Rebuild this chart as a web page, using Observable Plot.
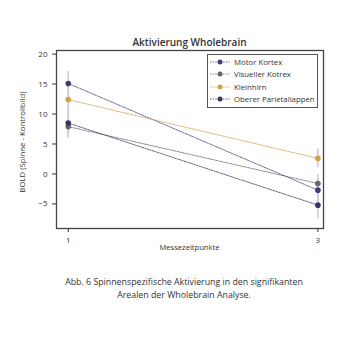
<!DOCTYPE html>
<html>
<head>
<meta charset="utf-8">
<script src="https://cdn.jsdelivr.net/npm/d3@7"></script>
<script src="https://cdn.jsdelivr.net/npm/@observablehq/plot@0.6"></script>
<style>
  html, body { margin: 0; padding: 0; background: #fff; }
  #wrap { position: relative; width: 350px; height: 350px; font-family: "Open Sans", "Noto Sans", sans-serif; color: #333; }
  #title { position: absolute; top: 35px; left: 56px; width: 267px; text-align: center; font-size: 10px; font-weight: 600; color: #333; }
  #ylabel { position: absolute; left: 22px; top: 142px; transform: translate(-50%, -50%) rotate(-90deg); white-space: nowrap; font-size: 7.8px; color: #333; }
  #xlabel { position: absolute; left: 56px; width: 267px; top: 242px; text-align: center; font-size: 7.6px; color: #333; }
  #caption { position: absolute; top: 276px; left: 0; width: 368px; text-align: center; font-size: 8.8px; line-height: 12.8px; color: #333; }
  #legend { position: absolute; left: 207px; top: 54px; width: 111px; height: 54px; border: 1px solid #555; background: #fff; box-sizing: border-box; }
  #chart { position: absolute; left: 0; top: 0; }
</style>
</head>
<body>
<div id="wrap">
  <div id="chart"></div>
  <div id="title">Aktivierung Wholebrain</div>
  <div id="ylabel">BOLD (Spinne - Kontrollbild)</div>
  <div id="xlabel">Messezeitpunkte</div>
  <div id="legend"></div>
  <div id="caption">Abb. 6 Spinnenspezifische Aktivierung in den signifikanten<br>Arealen der Wholebrain Analyse.</div>
</div>
<script>
const series = ["Motor Kortex", "Visueller Kotrex", "Kleinhirn", "Oberer Parietallappen"];
const colors = ["#403c78", "#666666", "#d4a045", "#3c3264"];
const timepoints = [1, 3];
const valuesT1 = [15.1, 7.9, 12.4, 8.5];
const valuesT3 = [-2.7, -1.6, 2.6, -5.2];
const errT1 = [2.0, 1.9, 2.5, 2.3];
const errT3 = [2.0, 1.5, 1.6, 2.3];
const yTicks = [-5, 0, 5, 10, 15, 20];
const xTicks = [1, 3];

const rows = [];
series.forEach((s, i) => {
  rows.push({series: s, t: timepoints[0], v: valuesT1[i], e: errT1[i]});
  rows.push({series: s, t: timepoints[1], v: valuesT3[i], e: errT3[i]});
});

const plot = Plot.plot({
  width: 350,
  height: 260,
  marginTop: 50,
  marginBottom: 32,
  marginLeft: 56,
  marginRight: 27,
  style: {fontFamily: "'Open Sans', 'Noto Sans', sans-serif", fontSize: "8px", color: "#333", background: "transparent"},
  x: {domain: [0.906, 3.045], ticks: xTicks, tickFormat: d => d, tickSize: 4, label: null},
  y: {domain: [-9.1, 20.6], ticks: yTicks, tickSize: 4, label: null},
  color: {domain: series, range: colors},
  marks: [
    Plot.ruleX(rows, {x: "t", y1: d => d.v - d.e, y2: d => d.v + d.e, stroke: "#c9c7d8", strokeWidth: 1.5}),
    Plot.line(rows, {x: "t", y: "v", z: "series", stroke: "series", strokeWidth: 0.8, strokeDasharray: "1.4,1.2"}),
    Plot.dot(rows, {x: "t", y: "v", fill: "series", r: 2.8}),
    Plot.frame({stroke: "#444", strokeWidth: 1.3})
  ]
});
document.getElementById("chart").appendChild(plot);

// legend built from the same arrays
const leg = d3.select("#legend");
series.forEach((s, i) => {
  const row = leg.append("div").style("position", "absolute").style("left", "0px").style("top", (0.5 + i * 12.5) + "px")
    .style("height", "12px").style("display", "flex").style("align-items", "center").style("white-space", "nowrap");
  const sv = row.append("svg").attr("width", 25).attr("height", 12);
  sv.append("line").attr("x1", 2).attr("x2", 22).attr("y1", 6).attr("y2", 6)
    .attr("stroke", colors[i]).attr("stroke-width", 0.8).attr("stroke-dasharray", "1.4,1.2");
  sv.append("circle").attr("cx", 12).attr("cy", 6).attr("r", 2.5).attr("fill", colors[i]);
  row.append("span").text(s).style("font-size", "7.8px").style("color", "#333").style("margin-left", "1px");
});
</script>
</body>
</html>
